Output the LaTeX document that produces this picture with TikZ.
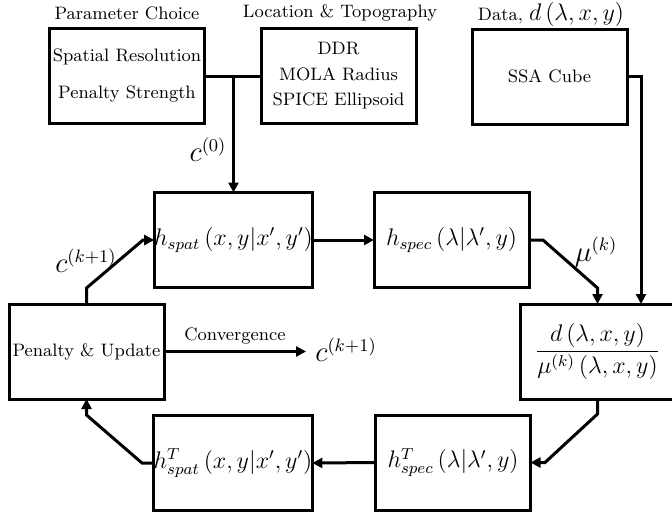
\documentclass[tikz,border=0pt]{standalone}
\usetikzlibrary{arrows.meta,calc}
\newcommand{\dtxt}{\fontsize{9}{11}\selectfont}
\newcommand{\dmath}{\fontsize{11.5}{14}\selectfont}
\newcommand{\dlbl}{\fontsize{13.5}{16}\selectfont}
\begin{document}
\begin{tikzpicture}[x=0.5pt,y=-0.5pt,
  box/.style={draw, line width=1.5pt, minimum width=77.5pt, minimum height=47.5pt,
    inner sep=0pt, outer sep=0pt, align=center, font=\dtxt},
  mbox/.style={box, font=\dmath},
  conn/.style={line width=1.5pt, line join=miter},
  arr/.style={conn, -{Triangle[length=5pt,width=5pt]}},
  txt/.style={font=\dtxt, inner sep=1pt},
  lbl/.style={font=\dlbl, inner sep=1pt}]
\useasboundingbox (0,0) rectangle (672,515);

% top row
\node[box, font=\fontsize{9}{18.5}\selectfont] (param) at (127,76) {Spatial Resolution\\Penalty Strength};
\node[box, font=\fontsize{9}{12.75}\selectfont] (loc) at (338.5,76) {DDR\\MOLA Radius\\SPICE Ellipsoid};
\node[box] (ssa) at (549.5,76.5) {SSA Cube};
\node[txt] (t1) at (127,13) {Parameter Choice};
\node[txt] (t2) at (340,13) {Location \& Topography};
\node[txt] (t3) at (551,14) {Data, {\dmath$d\left(\lambda,x,y\right)$}};

% loop
\node[mbox] (hspat) at (233.5,240) {$h_{spat}\left(x,y|x',y'\right)$};
\node[mbox] (hspec) at (451.5,240) {$h_{spec}\left(\lambda|\lambda',y\right)$};
\node[box] (pen) at (86.5,351.5) {Penalty \& Update};
\node[mbox, font=\fontsize{11.75}{14}\selectfont] (frac) at (597.5,351.5) {$\displaystyle\frac{d\left(\lambda,x,y\right)}{\mu^{(k)}\left(\lambda,x,y\right)}$};
\node[mbox] (hspatT) at (233,463) {$h^{T}_{spat}\left(x,y|x',y'\right)$};
\node[mbox] (hspecT) at (453,462.5) {$h^{T}_{spec}\left(\lambda|\lambda',y\right)$};

% coordinates
\coordinate (j) at (233.5,76);
\coordinate (sx) at (641,0);
\coordinate (m1) at (543,240);
\coordinate (m2) at (597.5,288);
\coordinate (d1) at (597.5,414);
\coordinate (d2) at (545,462.5);
\coordinate (b1) at (142,463);
\coordinate (b2) at (86.5,415);
\coordinate (u1) at (86.5,288);
\coordinate (u2) at (143,240);
\coordinate (convend) at (306,351.5);

% connectors
\draw[conn] (param.east) -- (loc.west);
\draw[arr] (j) -- (hspat.north);
\draw[arr] (hspat.east) -- (hspec.west);
\draw[arr] (ssa.east) -| (sx |- frac.north);
\draw[arr] (hspec.east) -- (m1) -- (m2) -- (frac.north);
\draw[arr] (frac.south) -- (d1) -- (d2) -- (hspecT.east);
\draw[arr] (hspecT.west) -- (hspatT.east);
\draw[arr] (hspatT.west) -- (b1) -- (b2) -- (pen.south);
\draw[arr] (pen.north) -- (u1) -- (u2) -- (hspat.west);
\draw[arr] (pen.east) -- node[txt, above=2pt] (convlbl) {Convergence} (convend);

% labels
\node[lbl] (c0) at (208,150) {$c^{(0)}$};
\node[lbl] (ckA) at (86,261) {$c^{(k+1)}$};
\node[lbl] (mu) at (596,252) {$\mu^{(k)}$};
\node[lbl, anchor=west] (ckB) at (313,350) {$c^{(k+1)}$};
\end{tikzpicture}
\end{document}
